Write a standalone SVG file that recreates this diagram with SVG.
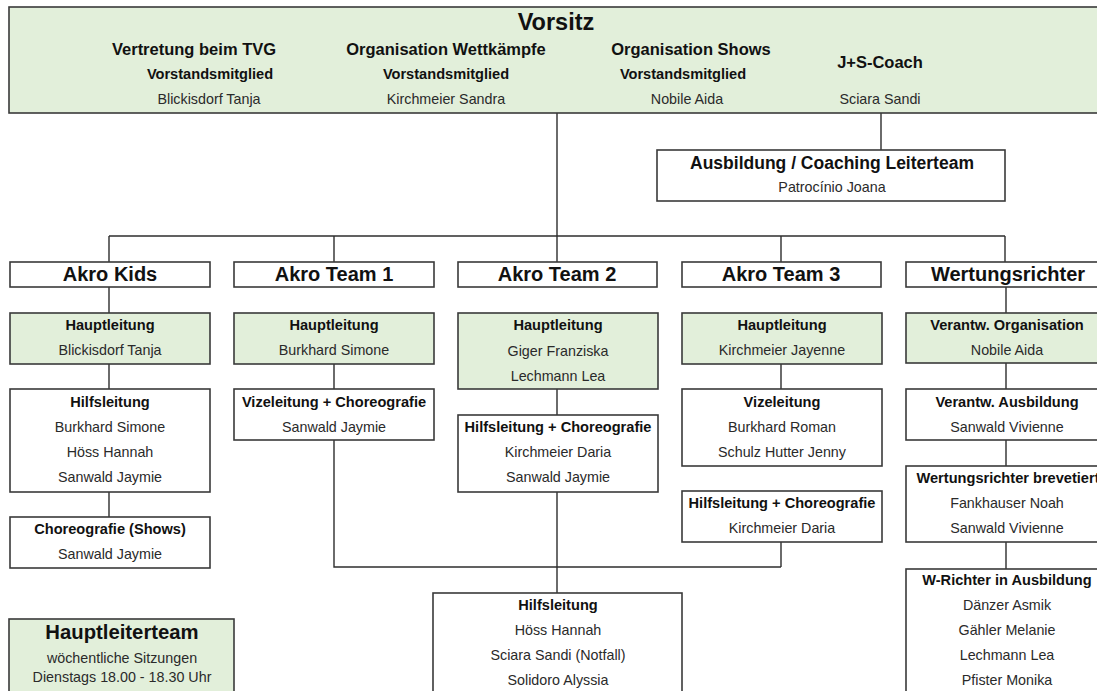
<svg xmlns="http://www.w3.org/2000/svg" width="1097" height="691" viewBox="0 0 1097 691">
<style>
.box{fill:#fff;stroke:#3a3a3a;stroke-width:1.6}
.g{fill:#e2efda}
.ln{stroke:#2e2e2e;stroke-width:1.4;fill:none}
text{font-family:"Liberation Sans",Arial,sans-serif;text-anchor:middle}
.b{font-weight:bold;font-size:14.6px;fill:#111}
.n{font-size:14.3px;fill:#2a2a2a}
.t{font-weight:bold;font-size:20px;fill:#111}
.h{font-weight:bold;font-size:16.5px;fill:#111}
</style>
<rect width="1097" height="691" fill="#fff"/>
<g id="connectors">
<path class="ln" d="M557 113V262M109 236H1005M109 236V262M334 236V262M781 236V262M1005 236V262M881 113V150M109 287V313M1006 287V313M109 364V389M109 492V517M334 364V389M334 440V567H781M557 389V415M557 492V593M781 364V389M781 542V567M1006 363V389M1006 440V466M1006 542V569"/>
</g>
<g id="vorsitz">
<rect class="box g" x="9" y="7" width="1100" height="106"/>
<text x="556" y="30" style="font-weight:bold;font-size:23.5px;fill:#111">Vorsitz</text>
<text class="h" x="194" y="55">Vertretung beim TVG</text>
<text class="h" x="446" y="55">Organisation Wettkämpfe</text>
<text class="h" x="691" y="55">Organisation Shows</text>
<text class="h" x="880" y="68">J+S-Coach</text>
<text class="b" x="210" y="79">Vorstandsmitglied</text>
<text class="b" x="446" y="79">Vorstandsmitglied</text>
<text class="b" x="683" y="79">Vorstandsmitglied</text>
<text class="n" x="209" y="104">Blickisdorf Tanja</text>
<text class="n" x="446" y="104">Kirchmeier Sandra</text>
<text class="n" x="687" y="104">Nobile Aida</text>
<text class="n" x="880" y="104">Sciara Sandi</text>
</g>
<g id="ausbildung">
<rect class="box" x="657" y="150" width="348" height="51"/>
<text x="832" y="169" style="font-weight:bold;font-size:17.5px;fill:#111">Ausbildung / Coaching Leiterteam</text>
<text class="n" x="832" y="192">Patrocínio Joana</text>
</g>
<g id="akro-kids">
<rect class="box" x="10" y="262" width="200" height="25"/>
<text class="t" x="110" y="281">Akro Kids</text>
</g>
<g id="akro-team-1">
<rect class="box" x="234" y="262" width="200" height="25"/>
<text class="t" x="334" y="281">Akro Team 1</text>
</g>
<g id="akro-team-2">
<rect class="box" x="458" y="262" width="199" height="25"/>
<text class="t" x="557" y="281">Akro Team 2</text>
</g>
<g id="akro-team-3">
<rect class="box" x="682" y="262" width="199" height="25"/>
<text class="t" x="781" y="281">Akro Team 3</text>
</g>
<g id="wertungsrichter">
<rect class="box" x="906" y="262" width="200" height="25"/>
<text class="t" x="1008" y="281">Wertungsrichter</text>
</g>
<g id="kids-hauptleitung">
<rect class="box g" x="10" y="313" width="200" height="51"/>
<text class="b" x="110" y="330">Hauptleitung</text>
<text class="n" x="110" y="355">Blickisdorf Tanja</text>
</g>
<g id="kids-hilfsleitung">
<rect class="box" x="10" y="389" width="200" height="103"/>
<text class="b" x="110" y="407">Hilfsleitung</text>
<text class="n" x="110" y="432">Burkhard Simone</text>
<text class="n" x="110" y="457">Höss Hannah</text>
<text class="n" x="110" y="482">Sanwald Jaymie</text>
</g>
<g id="kids-choreografie">
<rect class="box" x="10" y="517" width="200" height="51"/>
<text class="b" x="110" y="534">Choreografie (Shows)</text>
<text class="n" x="110" y="559">Sanwald Jaymie</text>
</g>
<g id="t1-hauptleitung">
<rect class="box g" x="234" y="313" width="200" height="51"/>
<text class="b" x="334" y="330">Hauptleitung</text>
<text class="n" x="334" y="355">Burkhard Simone</text>
</g>
<g id="t1-vizeleitung">
<rect class="box" x="234" y="389" width="200" height="51"/>
<text class="b" x="334" y="407">Vizeleitung + Choreografie</text>
<text class="n" x="334" y="432">Sanwald Jaymie</text>
</g>
<g id="t2-hauptleitung">
<rect class="box g" x="458" y="313" width="200" height="76"/>
<text class="b" x="558" y="330">Hauptleitung</text>
<text class="n" x="558" y="356">Giger Franziska</text>
<text class="n" x="558" y="381">Lechmann Lea</text>
</g>
<g id="t2-hilfsleitung-choreo">
<rect class="box" x="458" y="415" width="200" height="77"/>
<text class="b" x="558" y="432">Hilfsleitung + Choreografie</text>
<text class="n" x="558" y="457">Kirchmeier Daria</text>
<text class="n" x="558" y="482">Sanwald Jaymie</text>
</g>
<g id="t2-hilfsleitung">
<rect class="box" x="433" y="593" width="249" height="110"/>
<text class="b" x="558" y="610">Hilfsleitung</text>
<text class="n" x="558" y="635">Höss Hannah</text>
<text class="n" x="558" y="660">Sciara Sandi (Notfall)</text>
<text class="n" x="558" y="685">Solidoro Alyssia</text>
</g>
<g id="t3-hauptleitung">
<rect class="box g" x="682" y="313" width="200" height="51"/>
<text class="b" x="782" y="330">Hauptleitung</text>
<text class="n" x="782" y="355">Kirchmeier Jayenne</text>
</g>
<g id="t3-vizeleitung">
<rect class="box" x="682" y="389" width="200" height="77"/>
<text class="b" x="782" y="407">Vizeleitung</text>
<text class="n" x="782" y="432">Burkhard Roman</text>
<text class="n" x="782" y="457">Schulz Hutter Jenny</text>
</g>
<g id="t3-hilfsleitung-choreo">
<rect class="box" x="682" y="491" width="200" height="51"/>
<text class="b" x="782" y="508">Hilfsleitung + Choreografie</text>
<text class="n" x="782" y="533">Kirchmeier Daria</text>
</g>
<g id="wr-organisation">
<rect class="box g" x="906" y="313" width="200" height="50"/>
<text class="b" x="1007" y="330">Verantw. Organisation</text>
<text class="n" x="1007" y="355">Nobile Aida</text>
</g>
<g id="wr-ausbildung">
<rect class="box" x="906" y="389" width="200" height="51"/>
<text class="b" x="1007" y="407">Verantw. Ausbildung</text>
<text class="n" x="1007" y="432">Sanwald Vivienne</text>
</g>
<g id="wr-brevetiert">
<rect class="box" x="906" y="466" width="200" height="76"/>
<text class="b" x="1008" y="483">Wertungsrichter brevetiert</text>
<text class="n" x="1007" y="508">Fankhauser Noah</text>
<text class="n" x="1007" y="533">Sanwald Vivienne</text>
</g>
<g id="wr-in-ausbildung">
<rect class="box" x="906" y="569" width="200" height="140"/>
<text class="b" x="1007" y="585">W-Richter in Ausbildung</text>
<text class="n" x="1007" y="610">Dänzer Asmik</text>
<text class="n" x="1007" y="635">Gähler Melanie</text>
<text class="n" x="1007" y="660">Lechmann Lea</text>
<text class="n" x="1007" y="685">Pfister Monika</text>
</g>
<g id="hauptleiterteam">
<rect class="box g" x="9" y="619" width="225" height="90"/>
<text x="122" y="639" style="font-weight:bold;font-size:20.3px;fill:#111">Hauptleiterteam</text>
<text class="n" x="122" y="663">wöchentliche Sitzungen</text>
<text class="n" x="122" y="682">Dienstags 18.00 - 18.30 Uhr</text>
</g>
</svg>
